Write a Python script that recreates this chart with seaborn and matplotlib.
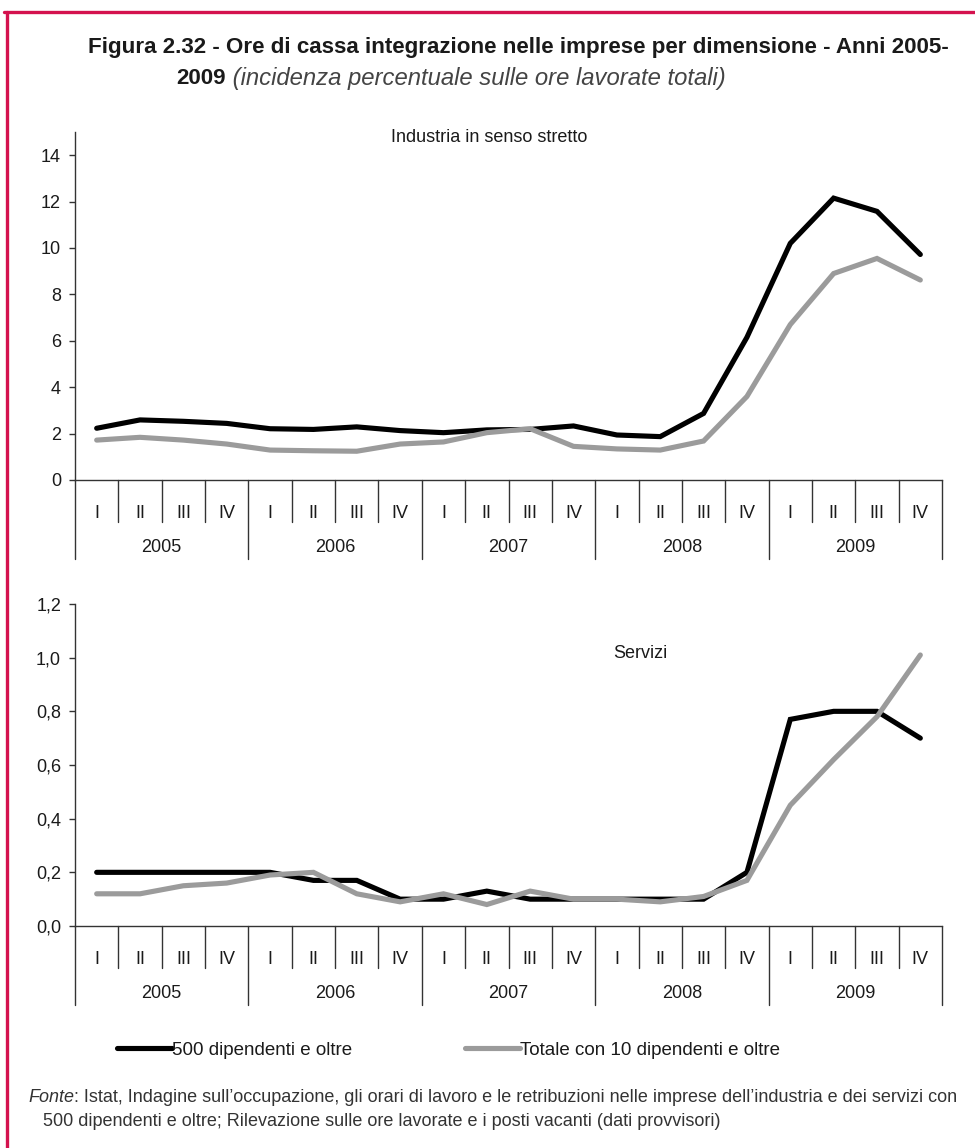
import numpy as np
import pandas as pd
import matplotlib
matplotlib.use("Agg")
import matplotlib.pyplot as plt
import matplotlib.transforms as mtransforms
from matplotlib.ticker import FuncFormatter, FixedLocator
from matplotlib.lines import Line2D
import seaborn as sns

# ---------------- data ----------------
years = ["2005", "2006", "2007", "2008", "2009"]
quarters = ["I", "II", "III", "IV"]
series_names = ["500 dipendenti e oltre", "Totale con 10 dipendenti e oltre"]

industria_500 = [2.23, 2.59, 2.53, 2.44, 2.21, 2.18, 2.29, 2.13, 2.04, 2.16, 2.18, 2.33,
                 1.94, 1.87, 2.87, 6.15, 10.2, 12.15, 11.58, 9.72]
industria_tot = [1.72, 1.84, 1.72, 1.55, 1.29, 1.26, 1.24, 1.55, 1.64, 2.04, 2.21, 1.45,
                 1.34, 1.29, 1.68, 3.6, 6.7, 8.9, 9.55, 8.62]
servizi_500 = [0.20, 0.20, 0.20, 0.20, 0.20, 0.17, 0.17, 0.10, 0.10, 0.13, 0.10, 0.10,
               0.10, 0.10, 0.10, 0.20, 0.77, 0.80, 0.80, 0.70]
servizi_tot = [0.12, 0.12, 0.15, 0.16, 0.19, 0.20, 0.12, 0.09, 0.12, 0.08, 0.13, 0.10,
               0.10, 0.09, 0.11, 0.17, 0.45, 0.62, 0.78, 1.01]

industria_ticks = [0, 2, 4, 6, 8, 10, 12, 14]
servizi_ticks = [0.0, 0.2, 0.4, 0.6, 0.8, 1.0, 1.2]

panel_titles = ["Industria in senso stretto", "Servizi"]
title_line1 = "Figura 2.32 - Ore di cassa integrazione nelle imprese per dimensione - Anni 2005-"
title_line2_bold = "2009"
title_line2_ital = " (incidenza percentuale sulle ore lavorate totali)"
fonte_ital = "Fonte"
fonte_line1 = ": Istat, Indagine sull\u2019occupazione, gli orari di lavoro e le retribuzioni nelle imprese dell\u2019industria e dei servizi con"
fonte_line2 = "500 dipendenti e oltre; Rilevazione sulle ore lavorate e i posti vacanti (dati provvisori)"

# ---------------- style ----------------
sns.set_theme(style="white")
plt.rcParams["font.family"] = ["Liberation Sans", "DejaVu Sans"]

W, H = 975, 1148
DPI = 100
fig = plt.figure(figsize=(W / DPI, H / DPI), dpi=DPI)
fig.patch.set_facecolor("white")

palette = {series_names[0]: "#000000", series_names[1]: "#9b9b9b"}
AXC = "#333333"
TXT = "#1a1a1a"


def make_df(v500, vtot):
    n = len(v500)
    return pd.DataFrame({
        "pos": list(range(n)) * 2,
        "value": list(v500) + list(vtot),
        "serie": [series_names[0]] * n + [series_names[1]] * n,
    })


def px_box(left, right, top, bottom):
    return [left / W, 1 - bottom / H, (right - left) / W, (bottom - top) / H]


def draw_panel(ax, v500, vtot, ylim, yticks, fmt, label, label_xy):
    df = make_df(v500, vtot)
    sns.lineplot(data=df, x="pos", y="value", hue="serie", palette=palette,
                 hue_order=series_names, linewidth=3.7, sort=False, legend=False,
                 ax=ax, solid_joinstyle="miter")
    handles = ax.get_lines()[:2]
    n = len(years) * len(quarters)
    ax.set_xlim(-0.5, n - 0.5)
    ax.set_ylim(*ylim)
    ax.yaxis.set_major_locator(FixedLocator(yticks))
    ax.yaxis.set_major_formatter(FuncFormatter(fmt))
    ax.set_xticks([])
    ax.set_xlabel("")
    ax.set_ylabel("")
    for s in ["top", "right"]:
        ax.spines[s].set_visible(False)
    for s in ["left", "bottom"]:
        ax.spines[s].set_color(AXC)
        ax.spines[s].set_linewidth(1.0)
    ax.tick_params(axis="y", which="major", left=True, direction="out", length=4,
                   width=1.0, color=AXC, labelsize=13, labelcolor=TXT, pad=6)
    ax.set_facecolor("white")
    ax.grid(False)

    # multi-level category axis
    h_px = ax.get_position().height * H
    trans = mtransforms.blended_transform_factory(ax.transData, ax.transAxes)
    for k in range(n + 1):
        length = 79 if k % len(quarters) == 0 else 42
        ax.plot([k - 0.5, k - 0.5], [0, -length / h_px], transform=trans,
                clip_on=False, color=AXC, lw=1.0)
    for i in range(n):
        ax.text(i, -33 / h_px, quarters[i % len(quarters)], transform=trans,
                ha="center", va="center", fontsize=13, color=TXT)
    for j, yr in enumerate(years):
        c = j * len(quarters) + (len(quarters) - 1) / 2
        ax.text(c, -67 / h_px, yr, transform=trans, ha="center", va="center",
                fontsize=13, color=TXT)
    ax.text(label_xy[0], label_xy[1], label, transform=ax.transAxes,
            ha="center", va="center", fontsize=13, color=TXT)
    return handles


ax1 = fig.add_axes(px_box(75, 942, 132, 480))
ax2 = fig.add_axes(px_box(75, 942, 604, 926))

handles = draw_panel(ax1, industria_500, industria_tot, (0, 15), industria_ticks,
                     lambda v, p: f"{v:.0f}", panel_titles[0],
                     ((489 - 75) / 867, (480 - 138) / 348))
draw_panel(ax2, servizi_500, servizi_tot, (0, 1.2), servizi_ticks,
           lambda v, p: f"{v:.1f}".replace(".", ","), panel_titles[1],
           ((640 - 75) / 867, (926 - 653) / 322))

# ---------------- title ----------------
fig.text(88 / W, 1 - 47 / H, title_line1, ha="left", va="center", fontsize=16.1,
         fontweight="bold", color=TXT)
t2 = fig.text(176 / W, 1 - 79 / H, title_line2_bold, ha="left", va="center",
              fontsize=16.1, fontweight="bold", color=TXT)
ax1.annotate(title_line2_ital, xy=(1, 0), xycoords=t2, ha="left", va="bottom",
             fontsize=17.2, fontstyle="italic", color="#444444", annotation_clip=False)

# ---------------- legend ----------------
fig.legend(handles, series_names, loc="center left",
           bbox_to_anchor=(117 / W, 1 - 1050 / H), ncol=2, frameon=False,
           handlelength=2.93, handletextpad=0.02, columnspacing=6.0,
           borderpad=0, borderaxespad=0, fontsize=13.5,
           labelcolor=TXT)

# ---------------- source note ----------------
f1 = fig.text(28 / W, 1 - 1098 / H, fonte_ital, ha="left", va="center", fontsize=13,
              fontstyle="italic", color="#333333")
ax1.annotate(fonte_line1, xy=(1, 0), xycoords=f1, ha="left", va="bottom",
             fontsize=13, color="#333333", annotation_clip=False)
fig.text(43 / W, 1 - 1121 / H, fonte_line2, ha="left", va="center", fontsize=13,
         color="#333333")

# ---------------- frame (red border lines) ----------------
RED = "#d4124e"
fig.add_artist(Line2D([4 / W, 1.0], [1 - 12 / H, 1 - 12 / H], transform=fig.transFigure,
                      color=RED, lw=2.4))
fig.add_artist(Line2D([7 / W, 7 / W], [1 - 12 / H, 0.0], transform=fig.transFigure,
                      color=RED, lw=2.4))

fig.savefig("out.png", dpi=DPI, facecolor="white")
